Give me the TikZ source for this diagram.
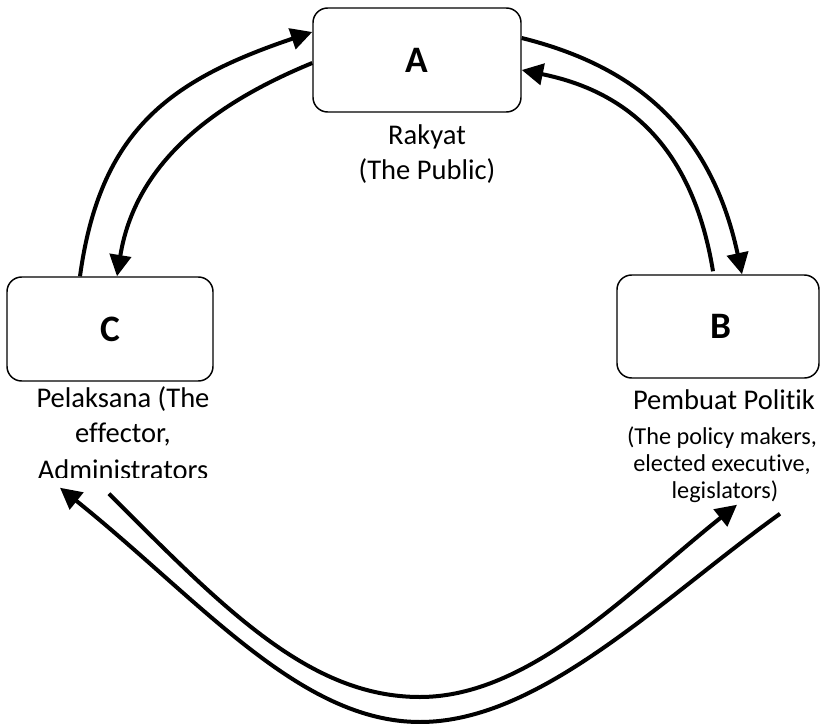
\documentclass[tikz,border=0pt]{standalone}
\usepackage{fontspec}
\setmainfont{Carlito}[Ligatures={NoCommon,NoContextual}]
\usetikzlibrary{arrows.meta}
\begin{document}
\begin{tikzpicture}[x=0.75pt,y=-0.75pt,
  box/.style={draw,line width=1.1pt,rounded corners=11pt,inner sep=0pt,
    font=\fontsize{28}{32}\selectfont\bfseries},
  lbl/.style={anchor=base,inner sep=0pt,font=\fontsize{21.4}{26}\selectfont},
  sublbl/.style={anchor=base,inner sep=0pt,font=\fontsize{18.2}{22}\selectfont},
  flow/.style={line width=3pt,-{Triangle[length=16pt,width=16pt]}}]
\useasboundingbox (0,0) rectangle (821,724);

% boxes
\node[box,minimum width=156pt,minimum height=78pt] (A) at (417,60) {\raisebox{-2pt}{A}};
\node[box,minimum width=154.5pt,minimum height=78pt] (C) at (110,329) {\raisebox{-2pt}{C}};
\node[box,minimum width=151.5pt,minimum height=77.25pt] (B) at (718,326.5) {\hspace{5pt}B};

% labels
\node[lbl] (a1) at (427,144) {Rakyat};
\node[lbl] (a2) at (427,179) {(The Public)};
\node[lbl] (c1) at (123,407) {Pelaksana (The};
\node[lbl] (c2) at (123,442) {effector,};
\begin{scope}
\clip (0,0) rectangle (260,477);
\node[lbl] (c3) at (123,479) {Administrators};
\end{scope}
\node[lbl] (b1) at (724,409) {Pembuat Politik};
\node[sublbl] (b2) at (722,444) {(The policy makers,};
\node[sublbl] (b3) at (722,471) {elected executive,};
\node[sublbl] (b4) at (725,498) {legislators)};

% C <-> A
\draw[flow] ([shift={(-30,0)}]C.north) .. controls (100,130) and (170,80) .. ([shift={(0,-28)}]A.west);
\draw[flow] ([shift={(0,3)}]A.west) .. controls (210,105) and (135,165) .. ([shift={(7,0)}]C.north);

% A <-> B
\draw[flow] ([shift={(0,-22)}]A.east) .. controls (630,65) and (710,125) .. ([shift={(24,0)}]B.north);
\draw[flow] ([shift={(-5,-3)}]B.north) .. controls (690,130) and (610,88) .. ([shift={(0,10)}]A.east);

% C <-> B (bottom)
\coordinate (cb0) at ([shift={(-1,112)}]C.south);
\coordinate (cbm) at (420,697);
\coordinate (bc0) at ([shift={(62,135)}]B.south);
\coordinate (bcm) at (420,722);
\draw[flow] (cb0) .. controls (225,610) and (310,697) .. (cbm)
  .. controls (530,697) and (630,590) .. ([shift={(19,126)}]B.south);
\draw[flow] (bc0) .. controls (660,600) and (540,722) .. (bcm)
  .. controls (300,722) and (200,600) .. ([shift={(-50,106)}]C.south);
\end{tikzpicture}
\end{document}
